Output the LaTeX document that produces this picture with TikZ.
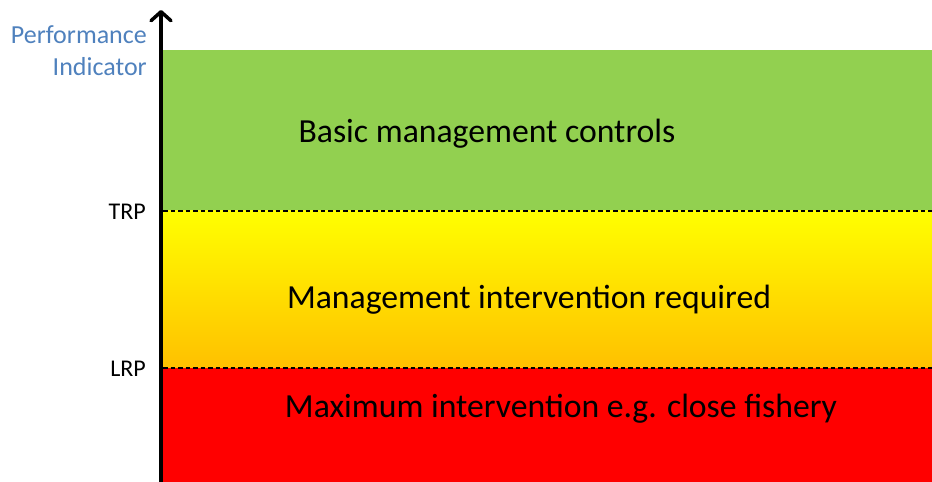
\documentclass[tikz,border=0pt]{standalone}
\usepackage{fontspec}
\setmainfont{Carlito}
\usetikzlibrary{arrows.meta}
\definecolor{bandgreen}{HTML}{92D050}
\definecolor{bandyellow}{HTML}{FFFF00}
\definecolor{bandorange}{HTML}{FFC000}
\definecolor{bandred}{HTML}{FF0000}
\definecolor{axislabel}{HTML}{4F81BD}
\tikzset{
  band/.style={draw=none},
  refline/.style={black, line width=1.2pt, dash pattern=on 4.5pt off 3pt},
  zonetext/.style={font=\fontsize{33.7}{40}\selectfont, text=black, inner sep=0pt},
  levellabel/.style={font=\fontsize{24}{28}\selectfont, text=black, anchor=east, inner sep=0pt},
  axistitle/.style={font=\fontsize{26}{32}\selectfont, text=axislabel, align=right, anchor=east, inner sep=0pt},
  axisarrow/.style={line width=3.5pt, -{Straight Barb[length=9pt,width=20pt,line width=3.5pt,round]}}
}
\begin{document}
\begin{tikzpicture}[x=1pt,y=1pt]
\useasboundingbox (0,0) rectangle (932,482);
% bands
\fill[bandgreen] (163,271) rectangle (932,432);
\shade[top color=bandyellow, bottom color=bandorange] (163,114) rectangle (932,271);
\fill[bandred] (163,0) rectangle (932,114);
% reference lines
\coordinate (trpL) at (163,271);
\coordinate (trpR) at (932,271);
\coordinate (lrpL) at (163,114);
\coordinate (lrpR) at (932,114);
\draw[refline] (trpL) -- (trpR);
\draw[refline] (lrpL) -- (lrpR);
% axis
\coordinate (axisBottom) at (161,0);
\coordinate (axisTop) at (161,472);
\draw[axisarrow] (axisBottom) -- (axisTop);
% labels
\node[axistitle] (pi) at (147,431) {Performance\\Indicator};
\node[levellabel] (trp) at (146,270) {TRP};
\node[levellabel] (lrp) at (146,113) {LRP};
\node[zonetext] (basic) at (487,348.5) {Basic management controls};
\node[zonetext] (mgmt) at (529,182) {Management intervention required};
\node[zonetext] (maxi) at (561,73) {Maximum intervention e.g. close fishery};
\end{tikzpicture}
\end{document}
